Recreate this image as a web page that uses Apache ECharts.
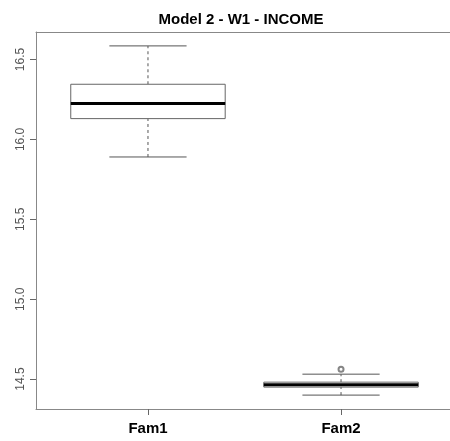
<!DOCTYPE html>
<html>
<head>
<meta charset="utf-8">
<script src="https://cdn.jsdelivr.net/npm/echarts@6/dist/echarts.min.js"></script>
<style>
  html, body { margin: 0; padding: 0; background: #fff; overflow: hidden; }
  /* wider than the window: the plot runs past the right edge, as in the original */
  #main { width: 480px; height: 441px; }
</style>
</head>
<body>
<div id="main"></div>
<script>
// box stats
var categories = ['Fam1', 'Fam2'];
var positions = [1, 2];
var lowerWhisker = [15.89, 14.40];
var lowerHinge = [16.13, 14.45];
var medians = [16.225, 14.464];
var upperHinge = [16.345, 14.481];
var upperWhisker = [16.585, 14.531];
var outliers = [[2, 14.5625]];
var yTicks = [14.5, 15.0, 15.5, 16.0, 16.5];

var myChart = echarts.init(document.getElementById('main'));

var boxData = positions.map(function(p, i) {
    return [p, lowerWhisker[i], lowerHinge[i], medians[i], upperHinge[i], upperWhisker[i]];
});

function renderBox(params, api) {
    var x = api.value(0);
    var lo = api.coord([x, api.value(1)]);
    var h1 = api.coord([x, api.value(2)]);
    var md = api.coord([x, api.value(3)]);
    var h3 = api.coord([x, api.value(4)]);
    var hi = api.coord([x, api.value(5)]);
    var boxL = api.coord([x - 0.4, 0])[0];
    var boxR = api.coord([x + 0.4, 0])[0];
    var capL = api.coord([x - 0.2, 0])[0];
    var capR = api.coord([x + 0.2, 0])[0];
    var line = { stroke: '#555', lineWidth: 1 };
    var dashed = { stroke: '#555', lineWidth: 1, lineDash: [3, 3] };
    return {
        type: 'group',
        children: [
            { type: 'line', shape: { x1: lo[0], y1: lo[1], x2: h1[0], y2: h1[1] }, style: dashed },
            { type: 'line', shape: { x1: h3[0], y1: h3[1], x2: hi[0], y2: hi[1] }, style: dashed },
            { type: 'line', shape: { x1: capL, y1: lo[1], x2: capR, y2: lo[1] }, style: line },
            { type: 'line', shape: { x1: capL, y1: hi[1], x2: capR, y2: hi[1] }, style: line },
            { type: 'rect', shape: { x: boxL, y: h3[1], width: boxR - boxL, height: h1[1] - h3[1] },
              style: { fill: '#fff', stroke: '#666', lineWidth: 1 } },
            { type: 'line', shape: { x1: boxL, y1: md[1], x2: boxR, y2: md[1] },
              style: { stroke: '#000', lineWidth: 3 } }
        ]
    };
}

var frameLine = { show: true, onZero: false, lineStyle: { color: '#888', width: 1 } };

var option = {
    animation: false,
    title: {
        text: 'Model 2 - W1 - INCOME',
        left: 236,
        top: 7,
        textAlign: 'center',
        textStyle: { fontFamily: 'Liberation Sans', fontSize: 15, fontWeight: 'bold', color: '#000' }
    },
    grid: { left: 36, top: 32, right: 27, bottom: 32 },
    xAxis: [{
        type: 'value',
        position: 'bottom',
        min: 0.42,
        max: 2.58,
        axisLine: frameLine,
        splitLine: { show: false },
        axisTick: { customValues: positions, length: 6, lineStyle: { color: '#666' } },
        axisLabel: {
            customValues: positions,
            margin: 12,
            fontFamily: 'Liberation Sans',
            fontSize: 15,
            fontWeight: 'bold',
            color: '#000',
            formatter: function(v) { return categories[Math.round(v) - 1]; }
        }
    }, {
        // top edge of the frame only
        type: 'value',
        position: 'top',
        min: 0.42,
        max: 2.58,
        axisLine: frameLine,
        splitLine: { show: false },
        axisTick: { show: false },
        axisLabel: { show: false }
    }],
    yAxis: {
        type: 'value',
        min: 14.313,
        max: 16.672,
        axisLine: frameLine,
        splitLine: { show: false },
        axisTick: { customValues: yTicks, length: 6, lineStyle: { color: '#666' } },
        axisLabel: {
            customValues: yTicks,
            rotate: 90,
            margin: 9,
            fontFamily: 'Liberation Sans',
            fontSize: 12,
            color: '#555',
            formatter: function(v) { return v.toFixed(1); }
        }
    },
    series: [
        {
            type: 'custom',
            renderItem: renderBox,
            data: boxData,
            encode: { x: 0, y: [1, 2, 3, 4, 5] }
        },
        {
            type: 'scatter',
            data: outliers,
            symbol: 'emptyCircle',
            symbolSize: 5,
            itemStyle: { color: '#666', borderWidth: 0.8 }
        }
    ]
};
myChart.setOption(option);
</script>
</body>
</html>
